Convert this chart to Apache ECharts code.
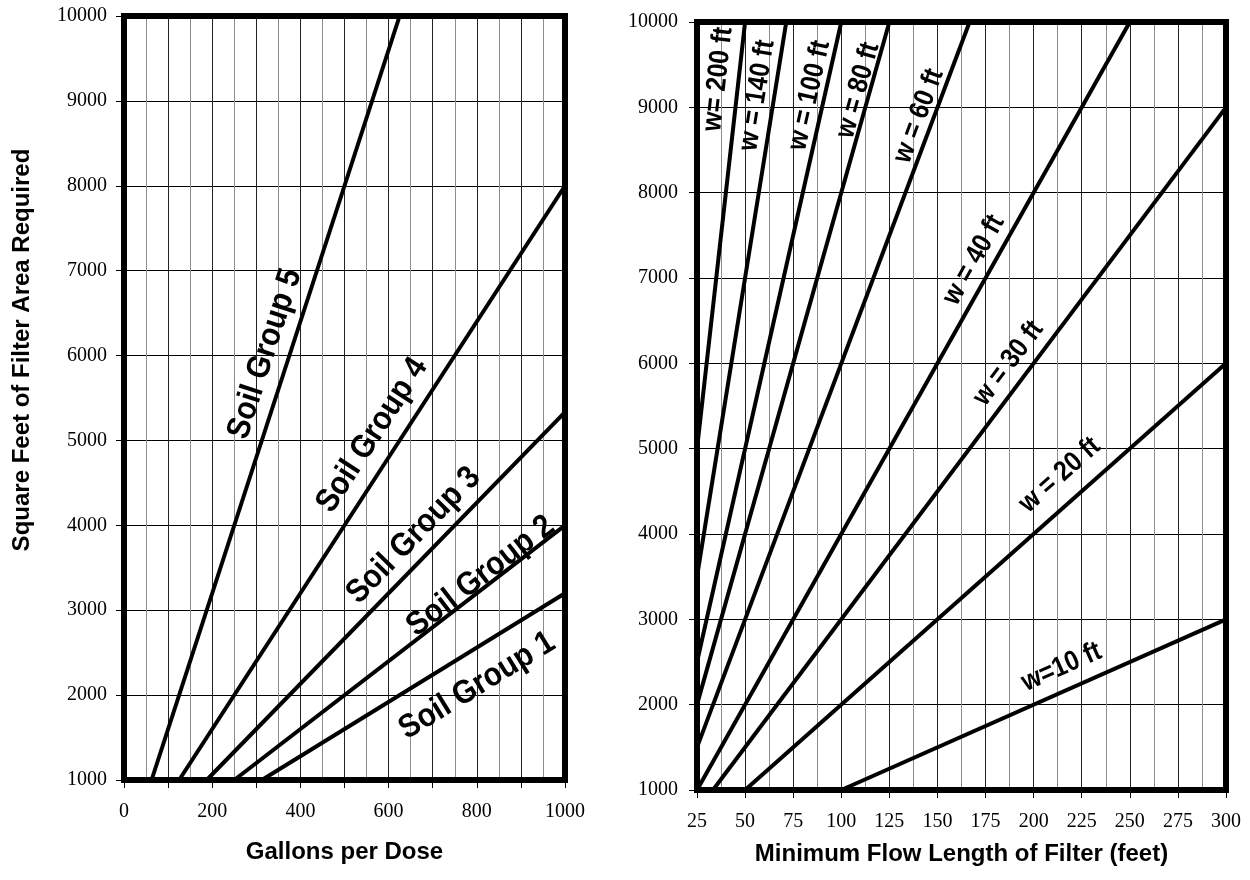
<!DOCTYPE html>
<html><head><meta charset="utf-8">
<script src="https://cdn.jsdelivr.net/npm/echarts@6/dist/echarts.min.js"></script>
<style>html,body{margin:0;padding:0;background:#fff;}#c{width:1250px;height:880px;}</style>
</head><body><div id="c"></div>
<script>
// ---------- Left chart: Soil groups (gallons per dose -> sq ft) ----------
const soilGroupNames = ['Soil Group 1', 'Soil Group 2', 'Soil Group 3', 'Soil Group 4', 'Soil Group 5'];
const soilGroup1 = [[312.5, 1000], [1000, 3200]];
const soilGroup2 = [[250, 1000], [1000, 4000]];
const soilGroup3 = [[187.5, 1000], [1000, 5333]];
const soilGroup4 = [[125, 1000], [1000, 8000]];
const soilGroup5 = [[62.5, 1000], [625, 10000]];
const soilGroupLines = [soilGroup1, soilGroup2, soilGroup3, soilGroup4, soilGroup5];
// where each label sits (data coordinates)
const soilGroupLabelAt = [[801, 2110], [809, 3400], [657, 3880], [563, 5060], [320, 6020]];

const leftXTickLabels = ['0', '200', '400', '600', '800', '1000'];
const yTickLabels = ['1000', '2000', '3000', '4000', '5000', '6000', '7000', '8000', '9000', '10000'];

// ---------- Right chart: filter widths (flow length -> sq ft) ----------
const widthNames = ['w=10 ft', 'w = 20 ft', 'w = 30 ft', 'w = 40 ft', 'w = 60 ft', 'w = 80 ft', 'w = 100 ft', 'w = 140 ft', 'w= 200 ft'];
const width10 = [[100, 1000], [300, 3000]];
const width20 = [[50, 1000], [300, 6000]];
const width30 = [[33.3, 1000], [300, 9000]];
const width40 = [[25, 1000], [250, 10000]];
const width60 = [[25, 1500], [166.7, 10000]];
const width80 = [[25, 2000], [125, 10000]];
const width100 = [[25, 2500], [100, 10000]];
const width140 = [[25, 3500], [71.4, 10000]];
const width200 = [[25, 5000], [50, 10000]];
const widthLines = [width10, width20, width30, width40, width60, width80, width100, width140, width200];
const widthLabelAt = [[214.5, 2440], [213.6, 4690], [186.9, 6000], [168.9, 7210], [140.3, 8900], [108.7, 9200], [83.5, 9140], [56.3, 9140], [36, 9330]];

const rightXTickLabels = ['25', '50', '75', '100', '125', '150', '175', '200', '225', '250', '275', '300'];

const yTitle = 'Square Feet of Filter Area Required';

// ---------- styling ----------
const serif = "'Liberation Serif', 'Times New Roman', serif";
const sans = "'Liberation Sans', Arial, sans-serif";
const tickLabelStyle = { fontFamily: serif, fontSize: 20, color: '#000' };
const titleStyle = { fontFamily: sans, fontWeight: 'bold', fontSize: 24, color: '#000' };

function xAxisCfg(gridIndex, min, max, interval, labels, name, nameGap) {
  return {
    type: 'value', gridIndex, min, max, interval,
    axisLine: { show: false },
    axisTick: { show: true, length: 8, lineStyle: { color: '#000', width: 1 } },
    axisLabel: Object.assign({ margin: 22, formatter: v => labels.includes(String(v)) ? String(v) : '' }, tickLabelStyle),
    splitLine: { show: true, lineStyle: { color: '#222', width: 1 } },
    minorTick: { show: false, splitNumber: 2 },
    minorSplitLine: { show: true, lineStyle: { color: '#8c8c8c', width: 1 } },
    name, nameLocation: 'middle', nameGap, nameTextStyle: titleStyle
  };
}
function yAxisCfg(gridIndex, margin) {
  return {
    type: 'value', gridIndex, min: 1000, max: 10000, interval: 1000,
    axisLine: { show: false },
    axisTick: { show: true, length: 8, lineStyle: { color: '#000', width: 1 } },
    axisLabel: Object.assign({ margin, formatter: v => yTickLabels.includes(String(v)) ? String(v) : '' }, tickLabelStyle),
    splitLine: { show: true, lineStyle: { color: '#000', width: 1 } }
  };
}

function lineSeries(data, xi) {
  return {
    type: 'line', xAxisIndex: xi, yAxisIndex: xi, data, showSymbol: false, symbol: 'none',
    silent: true, animation: false, z: 2,
    lineStyle: { color: '#000', width: 4 }
  };
}

function labelSeries(xi, anchors, names, lines, fontSize, sx) {
  return {
    type: 'custom', xAxisIndex: xi, yAxisIndex: xi, silent: true, animation: false, z: 5, clip: false,
    data: anchors.map((p, i) => [p[0], p[1], i]),
    renderItem: function (params, api) {
      const i = api.value(2);
      const c = api.coord([api.value(0), api.value(1)]);
      const ln = lines[i];
      const p0 = api.coord(ln[0]);
      const p1 = api.coord(ln[1]);
      const ang = Math.atan2(-(p1[1] - p0[1]), p1[0] - p0[0]);
      return {
        type: 'text', x: c[0], y: c[1], rotation: ang, scaleX: sx, scaleY: 1,
        style: { text: names[i], fontFamily: sans, fontWeight: 'bold', fontSize, fill: '#000', align: 'center', verticalAlign: 'middle' }
      };
    }
  };
}

const chart = echarts.init(document.getElementById('c'), null, { renderer: 'canvas' });
const series = [];
soilGroupLines.forEach(d => series.push(lineSeries(d, 0)));
widthLines.forEach(d => series.push(lineSeries(d, 1)));
series.push(labelSeries(0, soilGroupLabelAt, soilGroupNames, soilGroupLines, 33, 0.9));
series.push(labelSeries(1, widthLabelAt, widthNames, widthLines, 28, 0.88));

chart.setOption({
  animation: false,
  backgroundColor: '#fff',
  grid: [
    { left: 124, top: 16, width: 441, height: 764, show: true, borderColor: '#000', borderWidth: 6, z: 3, backgroundColor: 'transparent' },
    { left: 697, top: 22, width: 529, height: 768, show: true, borderColor: '#000', borderWidth: 6, z: 3, backgroundColor: 'transparent' }
  ],
  xAxis: [
    xAxisCfg(0, 0, 1000, 100, leftXTickLabels, 'Gallons per Dose', 60),
    xAxisCfg(1, 25, 300, 25, rightXTickLabels, 'Minimum Flow Length of Filter (feet)', 52)
  ],
  yAxis: [
    yAxisCfg(0, 17),
    yAxisCfg(1, 19)
  ],
  graphic: [{
    type: 'text', x: 22, y: 350, rotation: Math.PI / 2,
    style: { text: yTitle, fontFamily: sans, fontWeight: 'bold', fontSize: 24, fill: '#000', align: 'center', verticalAlign: 'middle' }
  }],
  series
});
</script></body></html>
